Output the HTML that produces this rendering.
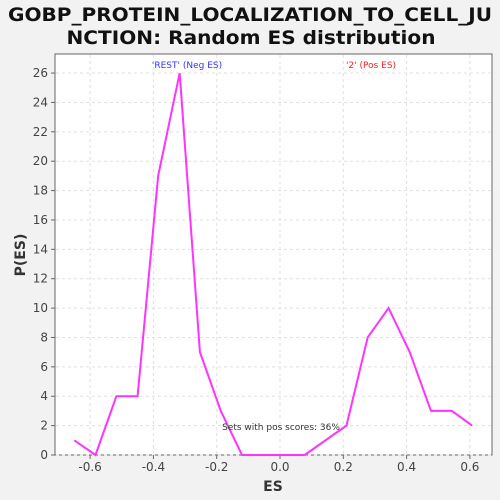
<!DOCTYPE html>
<html><head><meta charset="utf-8"><style>
body{margin:0;background:#f2f2f2;}
svg{display:block;font-family:"DejaVu Sans","Liberation Sans",sans-serif;}
</style></head><body>
<svg id="c" width="500" height="500">
<rect width="500" height="500" fill="#f2f2f2"/>
<text x="250" y="21" text-anchor="middle" font-size="19" font-weight="bold" fill="#111" textLength="484" lengthAdjust="spacingAndGlyphs">GOBP_PROTEIN_LOCALIZATION_TO_CELL_JU</text>
<text x="251" y="44" text-anchor="middle" font-size="19" font-weight="bold" fill="#111" textLength="369" lengthAdjust="spacingAndGlyphs">NCTION: Random ES distribution</text>
<rect x="55" y="54" width="437" height="401" fill="#fff" stroke="#666"/>
<g id="grid"></g><g id="axes"></g>
<text x="187" y="68" text-anchor="middle" font-size="9" fill="#3333ff">'REST' (Neg ES)</text>
<text x="371" y="68" text-anchor="middle" font-size="9" fill="#ff2222">'2' (Pos ES)</text>
<polyline id="line" fill="none" stroke="#ff33ff" stroke-width="2"/>
<text x="281" y="430" text-anchor="middle" font-size="9" fill="#333">Sets with pos scores: 36%</text>
<text x="273" y="491" text-anchor="middle" font-size="14" font-weight="bold" fill="#333">ES</text>
<text x="25" y="255" text-anchor="middle" font-size="14" font-weight="bold" fill="#333" transform="rotate(-90 25 255)">P(ES)</text>
</svg>
<script>
const esValues=[-0.65,-0.583,-0.517,-0.45,-0.385,-0.317,-0.253,-0.187,-0.12,-0.054,0.012,0.078,0.21,0.277,0.343,0.41,0.477,0.543,0.607];
const densityValues=[1,0,4,4,19,26,7,3,0,0,0,0,2,8,10,7,3,3,2];
const xTicks=[-0.6,-0.4,-0.2,0.0,0.2,0.4,0.6];
const yTicks=[0,2,4,6,8,10,12,14,16,18,20,22,24,26];
const X=v=>280+v*316.5, Y=v=>455-v*14.69;
const ns="http://www.w3.org/2000/svg";
const grid=document.getElementById('grid'), axes=document.getElementById('axes');
function mk(tag,attrs,parent){const e=document.createElementNS(ns,tag);for(const k in attrs)e.setAttribute(k,attrs[k]);parent.appendChild(e);return e;}
xTicks.forEach(t=>{
  const g=mk('line',{x1:X(t),x2:X(t),y1:55,y2:455,stroke:'#e0e0e0','stroke-dasharray':'3,3'},grid);
  
  
  const tk=mk('line',{x1:X(t),x2:X(t),y1:455,y2:459,stroke:'#666'},axes);
  
  
  const l=mk('text',{x:X(t),y:471,'text-anchor':'middle','font-size':'12',fill:'#444'},axes);
  l.textContent=t.toFixed(1);
  
  
});
yTicks.forEach(t=>{
  const g=mk('line',{x1:56,x2:491,y1:Y(t),y2:Y(t),stroke:'#e0e0e0','stroke-dasharray':'3,3'},grid);
  
  
  const tk=mk('line',{x1:51,x2:55,y1:Y(t),y2:Y(t),stroke:'#666'},axes);
  
  
  const l=mk('text',{x:48,y:Y(t)+4,'text-anchor':'end','font-size':'12',fill:'#444'},axes);
  l.textContent=t;
  
  
});
document.getElementById('line').setAttribute('points',esValues.map((v,i)=>X(v)+','+Y(densityValues[i])).join(' '));
</script>
</body></html>
